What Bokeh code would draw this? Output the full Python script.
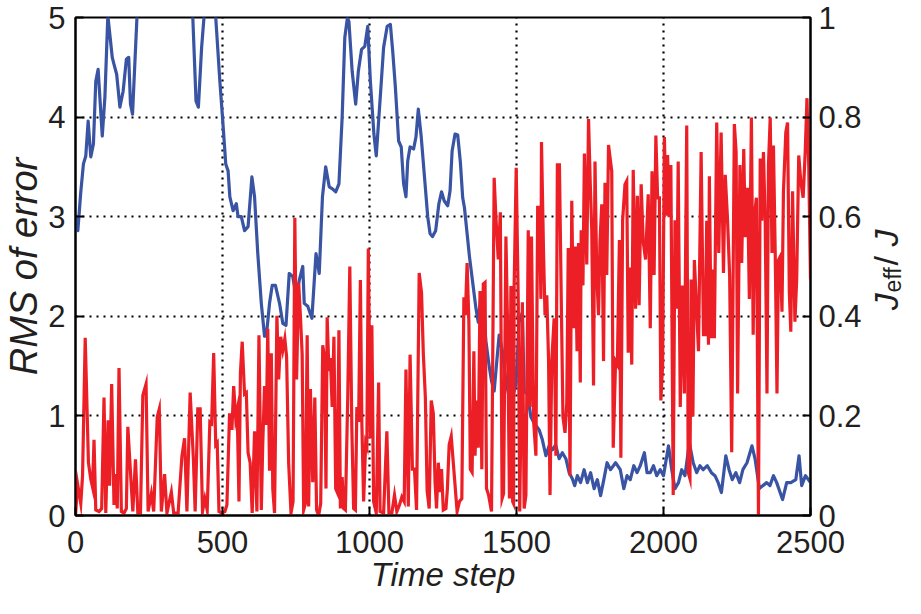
import math
from bokeh.plotting import figure
from bokeh.layouts import row
from bokeh.models import Range1d, LinearAxis, FixedTicker
from bokeh.core.properties import value
from bokeh.embed import file_html
from bokeh.resources import INLINE

# ---------------- data ----------------
x_ticks = [0, 500, 1000, 1500, 2000, 2500]
rms_ticks = [0, 1, 2, 3, 4, 5]
j_ticks = [0, 0.2, 0.4, 0.6, 0.8, 1]
j_tick_labels = ["0", "0.2", "0.4", "0.6", "0.8", "1"]

# RMS of error (left axis), blue
rms_steps = [0, 8, 18, 27, 35, 43, 52, 61, 69, 77, 91, 100, 110, 125, 131, 140, 151, 162, 173, 181,
             187, 194, 209, 220, 390, 399, 410, 418, 429, 437, 448, 470, 477, 491, 500, 511, 519, 525,
             536, 547, 553, 564, 575, 587, 600, 609, 620, 632, 643, 649, 660, 669, 680, 694, 705, 716,
             727, 739, 750, 761, 773, 778, 790, 804, 818, 829, 840, 851, 863, 874, 885, 896, 907, 916,
             925, 930, 941, 953, 962, 973, 984, 994, 1003, 1015, 1023, 1031, 1038, 1048, 1060, 1071,
             1079, 1088, 1099, 1108, 1116, 1124, 1130, 1138, 1150, 1158, 1166, 1176, 1187, 1198, 1206,
             1214, 1225, 1236, 1245, 1254, 1266, 1274, 1281, 1291, 1300, 1309, 1317, 1323, 1332, 1340,
             1351, 1362, 1370, 1379, 1385, 1396, 1408, 1415, 1424, 1433, 1441, 1452, 1464, 1475, 1487,
             1498, 1509, 1520, 1526, 1537, 1549, 1560, 1577, 1588, 1600, 1611, 1622, 1633, 1645, 1656,
             1668, 1679, 1690, 1698, 1707, 1718, 1730, 1741, 1752, 1764, 1775, 1786, 1797, 1808, 1820,
             1837, 1853, 1865, 1876, 1887, 1899, 1910, 1921, 1935, 1944, 1955, 1966, 1977, 1989, 2000,
             2017, 2028, 2039, 2051, 2062, 2073, 2088, 2101, 2113, 2124, 2135, 2149, 2163, 2175, 2186,
             2197, 2212, 2223, 2234, 2246, 2259, 2270, 2284, 2301, 2312, 2326, 2338, 2351, 2362, 2374,
             2385, 2405, 2419, 2433, 2450, 2461, 2470, 2483, 2500]
rms_values = [3.0, 2.86, 3.25, 3.53, 3.61, 3.96, 3.6, 3.73, 4.36, 4.48, 3.81, 4.2, 5.02, 4.6, 4.53,
              4.43, 4.1, 4.26, 4.58, 4.6, 4.13, 4.03, 5.0, 5.4, 5.4, 5.0, 4.16, 4.1, 4.7, 5.0, 5.3,
              5.3, 5.0, 4.36, 4.0, 3.53, 3.46, 3.2, 3.06, 3.13, 3.0, 3.0, 2.86, 2.9, 3.4, 3.2, 2.63,
              2.13, 1.8, 1.8, 2.13, 2.31, 2.31, 2.13, 1.93, 1.91, 2.43, 2.4, 2.2, 2.36, 2.5, 2.13,
              2.1, 1.98, 2.63, 2.43, 3.2, 3.5, 3.3, 3.28, 3.25, 3.33, 4.0, 4.8, 5.0, 4.96, 4.46, 4.13,
              4.46, 4.68, 4.71, 4.91, 4.36, 3.83, 3.61, 3.96, 4.26, 4.7, 4.91, 4.93, 4.66, 4.3, 3.76,
              3.7, 3.33, 3.2, 3.56, 3.7, 3.68, 3.8, 4.08, 3.8, 3.4, 3.0, 2.83, 2.8, 2.86, 3.13, 3.25,
              3.16, 3.11, 3.26, 3.66, 3.83, 3.82, 3.55, 3.19, 3.09, 2.83, 2.6, 2.34, 2.08, 1.94, 2.21,
              2.14, 1.75, 1.48, 1.35, 1.25, 1.55, 1.81, 1.65, 1.35, 1.19, 1.19, 1.32, 1.94, 2.04,
              1.25, 1.22, 0.99, 0.93, 0.86, 0.76, 0.6, 0.7, 0.66, 0.71, 0.57, 0.63, 0.57, 0.43, 0.37,
              0.3, 0.4, 0.33, 0.46, 0.33, 0.43, 0.27, 0.36, 0.2, 0.36, 0.53, 0.46, 0.53, 0.46, 0.27,
              0.4, 0.36, 0.5, 0.43, 0.5, 0.63, 0.43, 0.43, 0.5, 0.4, 0.46, 0.4, 0.7, 0.46, 0.27, 0.33,
              0.46, 0.4, 0.73, 0.53, 0.43, 0.5, 0.46, 0.5, 0.43, 0.4, 0.33, 0.23, 0.6, 0.46, 0.36,
              0.43, 0.33, 0.46, 0.53, 0.7, 0.56, 0.27, 0.3, 0.33, 0.3, 0.4, 0.33, 0.16, 0.33, 0.33,
              0.36, 0.6, 0.3, 0.4, 0.33]

# J_eff / J (right axis), red
j_steps = [0, 7, 18, 24, 33, 44, 52, 58, 63, 69, 80, 89, 97, 103, 111, 116, 123, 131, 136, 142, 148,
           156, 165, 173, 178, 187, 195, 204, 212, 221, 229, 240, 247, 258, 266, 278, 285, 292, 303,
           311, 326, 334, 349, 362, 371, 379, 390, 401, 407, 416, 424, 432, 440, 448, 457, 463, 470,
           477, 482, 488, 497, 508, 515, 524, 532, 538, 545, 550, 556, 561, 567, 575, 581, 587, 594,
           601, 609, 617, 624, 632, 637, 643, 649, 654, 660, 666, 671, 677, 685, 691, 698, 705, 712,
           718, 725, 733, 740, 746, 752, 759, 765, 771, 776, 782, 788, 793, 799, 807, 814, 820, 827,
           834, 841, 847, 852, 856, 862, 867, 873, 879, 885, 890, 896, 901, 907, 912, 918, 926, 933,
           940, 946, 952, 957, 963, 969, 974, 980, 987, 991, 996, 1003, 1008, 1014, 1023, 1031, 1036,
           1048, 1059, 1066, 1076, 1085, 1093, 1102, 1110, 1118, 1124, 1132, 1138, 1146, 1153, 1160,
           1169, 1177, 1183, 1190, 1196, 1203, 1210, 1217, 1223, 1228, 1234, 1240, 1245, 1251, 1260,
           1265, 1271, 1278, 1298, 1306, 1314, 1321, 1326, 1332, 1338, 1343, 1349, 1355, 1359, 1365,
           1370, 1376, 1382, 1387, 1393, 1398, 1405, 1415, 1424, 1430, 1438, 1445, 1451, 1456, 1464,
           1470, 1476, 1481, 1487, 1490, 1492, 1499, 1506, 1511, 1520, 1526, 1532, 1540, 1546, 1551,
           1558, 1566, 1572, 1578, 1583, 1585, 1592, 1597, 1603, 1609, 1614, 1620, 1628, 1634, 1639,
           1646, 1653, 1658, 1665, 1671, 1676, 1682, 1688, 1694, 1700, 1706, 1711, 1717, 1720, 1726,
           1731, 1739, 1745, 1751, 1756, 1762, 1767, 1773, 1779, 1784, 1790, 1796, 1801, 1807, 1813,
           1824, 1829, 1837, 1843, 1850, 1855, 1861, 1869, 1875, 1880, 1886, 1892, 1897, 1905, 1911,
           1917, 1924, 1931, 1939, 1948, 1955, 1961, 1968, 1974, 1980, 1986, 1991, 1997, 2003, 2009,
           2014, 2019, 2025, 2033, 2039, 2045, 2050, 2057, 2064, 2071, 2079, 2084, 2090, 2094, 2100,
           2105, 2113, 2119, 2128, 2136, 2142, 2147, 2153, 2156, 2162, 2168, 2173, 2181, 2188, 2196,
           2204, 2210, 2218, 2225, 2232, 2241, 2247, 2252, 2260, 2266, 2273, 2278, 2286, 2292, 2299,
           2305, 2310, 2316, 2323, 2329, 2334, 2340, 2346, 2352, 2357, 2363, 2369, 2374, 2380, 2386,
           2391, 2397, 2403, 2408, 2416, 2422, 2428, 2433, 2439, 2447, 2453, 2460, 2467, 2475, 2482,
           2488, 2494, 2500]
j_values = [0.0, 0.064, 0.024, 0.08, 0.357, 0.106, 0.073, 0.057, 0.152, 0.011, 0.008, 0.014, 0.237,
            0.005, 0.191, 0.06, 0.264, 0.021, 0.083, 0.014, 0.296, 0.008, 0.005, 0.014, 0.178, 0.087,
            0.008, 0.113, 0.005, 0.005, 0.241, 0.264, 0.008, 0.044, 0.008, 0.198, 0.214, 0.008, 0.083,
            0.005, 0.047, 0.005, 0.005, 0.119, 0.155, 0.008, 0.247, 0.113, 0.008, 0.214, 0.214, 0.008,
            0.034, 0.011, 0.188, 0.185, 0.326, 0.142, 0.146, 0.008, 0.005, 0.008, 0.021, 0.205, 0.172,
            0.26, 0.195, 0.211, 0.028, 0.287, 0.349, 0.244, 0.247, 0.126, 0.106, 0.005, 0.169, 0.008,
            0.362, 0.011, 0.146, 0.26, 0.182, 0.375, 0.09, 0.326, 0.054, 0.005, 0.401, 0.273, 0.359,
            0.332, 0.355, 0.319, 0.106, 0.005, 0.028, 0.598, 0.273, 0.467, 0.401, 0.323, 0.011, 0.024,
            0.362, 0.018, 0.254, 0.067, 0.237, 0.011, 0.0, 0.024, 0.342, 0.316, 0.054, 0.398, 0.29,
            0.316, 0.218, 0.359, 0.054, 0.047, 0.372, 0.014, 0.077, 0.014, 0.011, 0.237, 0.5, 0.172,
            0.014, 0.011, 0.218, 0.188, 0.473, 0.185, 0.028, 0.146, 0.139, 0.536, 0.155, 0.382, 0.028,
            0.005, 0.267, 0.008, 0.005, 0.169, 0.005, 0.005, 0.041, 0.008, 0.021, 0.037, 0.028, 0.293,
            0.018, 0.323, 0.093, 0.093, 0.011, 0.487, 0.447, 0.326, 0.237, 0.05, 0.014, 0.231, 0.205,
            0.067, 0.014, 0.106, 0.047, 0.093, 0.011, 0.014, 0.054, 0.142, 0.159, 0.008, 0.028, 0.034,
            0.438, 0.402, 0.507, 0.389, 0.093, 0.087, 0.33, 0.12, 0.231, 0.136, 0.451, 0.093, 0.465,
            0.468, 0.054, 0.041, 0.008, 0.678, 0.599, 0.514, 0.609, 0.034, 0.044, 0.56, 0.369, 0.034,
            0.461, 0.028, 0.024, 0.461, 0.698, 0.428, 0.008, 0.428, 0.014, 0.041, 0.573, 0.218, 0.56,
            0.192, 0.12, 0.619, 0.619, 0.435, 0.75, 0.527, 0.402, 0.442, 0.313, 0.041, 0.31, 0.396,
            0.12, 0.704, 0.704, 0.402, 0.198, 0.166, 0.225, 0.537, 0.08, 0.632, 0.376, 0.54, 0.33,
            0.547, 0.267, 0.573, 0.462, 0.727, 0.504, 0.796, 0.665, 0.573, 0.261, 0.711, 0.483, 0.402,
            0.55, 0.625, 0.31, 0.668, 0.483, 0.744, 0.691, 0.136, 0.31, 0.303, 0.553, 0.116, 0.593,
            0.665, 0.672, 0.327, 0.498, 0.303, 0.694, 0.415, 0.642, 0.422, 0.665, 0.55, 0.514, 0.645,
            0.376, 0.691, 0.483, 0.763, 0.638, 0.638, 0.231, 0.303, 0.76, 0.602, 0.724, 0.599, 0.704,
            0.041, 0.593, 0.415, 0.711, 0.218, 0.462, 0.245, 0.783, 0.087, 0.074, 0.474, 0.199, 0.513,
            0.409, 0.33, 0.73, 0.363, 0.363, 0.592, 0.343, 0.681, 0.356, 0.494, 0.356, 0.789, 0.527,
            0.769, 0.487, 0.684, 0.592, 0.481, 0.127, 0.786, 0.73, 0.245, 0.704, 0.507, 0.736, 0.559,
            0.658, 0.435, 0.799, 0.363, 0.605, 0.638, 0.0, 0.717, 0.592, 0.73, 0.589, 0.245, 0.704,
            0.799, 0.527, 0.743, 0.527, 0.245, 0.513, 0.52, 0.409, 0.651, 0.769, 0.789, 0.448, 0.369,
            0.651, 0.389, 0.474, 0.723, 0.671, 0.638, 0.73, 0.838, 0.704, 0.474]

# right axis title pieces: J_eff / J  (read bottom-to-top)
title_main = ["J", "J"]
title_sub = ["eff"]
title_slash = ["/"]

# ---------------- style ----------------
FONT = "Liberation Sans"
TXT = "#231f20"
BLUE = "#3a54a4"
RED = "#ec1f26"
H = 598
TOP = 17
BOTTOM = 83
W1 = 864
W2 = 905 - W1

p = figure(width=W1, height=H, x_range=Range1d(0, 2500), y_range=Range1d(0, 5),
           output_backend="svg", toolbar_location=None,
           min_border_left=73, min_border_right=51, min_border_top=TOP, min_border_bottom=BOTTOM)
p.extra_y_ranges = {"j": Range1d(0, 1)}
p.outline_line_color = "black"
p.outline_line_width = 2
p.outline_line_alpha = 1
p.background_fill_color = "white"
p.border_fill_color = "white"


def style_axis(ax):
    ax.axis_line_width = 2
    ax.axis_line_color = "black"
    ax.major_tick_in = 8
    ax.major_tick_out = 0
    ax.major_tick_line_width = 2
    ax.major_tick_line_color = "black"
    ax.minor_tick_line_color = None
    ax.major_label_text_font = FONT
    ax.major_label_text_font_size = "31px"
    ax.major_label_text_color = TXT
    ax.axis_label_text_font = FONT
    ax.axis_label_text_font_style = "italic"
    ax.axis_label_text_color = TXT


xa = p.xaxis[0]
xa.ticker = FixedTicker(ticks=x_ticks)
xa.axis_label = "Time step"
style_axis(xa)
xa.axis_label_text_font_size = "33px"
xa.major_label_standoff = 15
xa.axis_label_standoff = 0

ya = p.yaxis[0]
ya.ticker = FixedTicker(ticks=rms_ticks)
ya.axis_label = "RMS of error"
style_axis(ya)
ya.axis_label_text_font_size = "38px"
ya.major_label_standoff = 10
ya.axis_label_standoff = 0

ra = LinearAxis(y_range_name="j", ticker=FixedTicker(ticks=j_ticks),
                major_label_overrides={t: s for t, s in zip(j_ticks, j_tick_labels)})
style_axis(ra)
ra.major_label_standoff = 8
p.add_layout(ra, "right")

p.xgrid.ticker = FixedTicker(ticks=x_ticks[1:-1])
p.ygrid.ticker = FixedTicker(ticks=rms_ticks[1:-1])
for g in (p.xgrid[0], p.ygrid[0]):
    g.grid_line_color = "black"
    g.grid_line_dash = "2 5"
    g.grid_line_width = 2.2

p.line(rms_steps, rms_values, line_color=BLUE, line_width=3.2, line_join="round")
p.line(j_steps, j_values, y_range_name="j", line_color=RED, line_width=3.2, line_join="miter")

# narrow companion panel holding the rotated right-axis title
p2 = figure(width=W2, height=H, x_range=Range1d(0, W2), y_range=Range1d(0, 1),
            output_backend="svg", toolbar_location=None, x_axis_type=None, y_axis_type=None,
            min_border_left=0, min_border_right=0, min_border_top=TOP, min_border_bottom=BOTTOM)
p2.outline_line_color = None
p2.grid.visible = False
p2.background_fill_color = "white"
p2.border_fill_color = "white"

p2.text(x=[21, 21], y=[0.412, 0.540], text=title_main, angle=math.pi / 2,
        text_align="left", text_baseline="middle",
        text_font=value(FONT), text_font_size=value("34px"), text_font_style="italic",
        text_color=TXT)
p2.text(x=[28], y=[0.448], text=title_sub, angle=math.pi / 2,
        text_align="left", text_baseline="middle",
        text_font=value(FONT), text_font_size=value("23px"), text_color=TXT)
p2.text(x=[21], y=[0.502], text=title_slash, angle=math.pi / 2,
        text_align="left", text_baseline="middle",
        text_font=value(FONT), text_font_size=value("34px"), text_color=TXT)

layout = row(p, p2)
open("out.html", "w").write(file_html(layout, INLINE))
